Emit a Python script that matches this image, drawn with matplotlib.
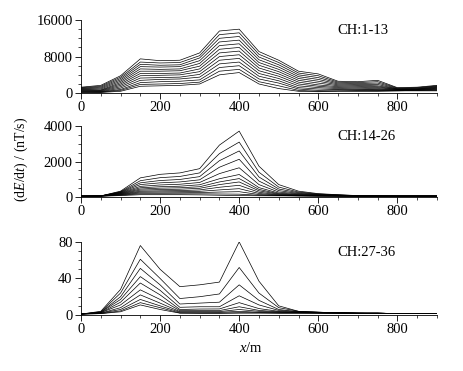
import matplotlib
matplotlib.use("Agg")
import matplotlib.pyplot as plt
from matplotlib.ticker import MultipleLocator

plt.rcParams['font.family'] = ['Liberation Serif', 'DejaVu Serif']
plt.rcParams['mathtext.fontset'] = 'custom'
plt.rcParams['mathtext.rm'] = 'Liberation Serif'
plt.rcParams['mathtext.it'] = 'Liberation Serif:italic'

x = [0, 50, 100, 150, 200, 250, 300, 350, 400, 450, 500, 550, 600, 650, 700, 750, 800, 850, 900]

# CH 1-13
ch_top = [
    [1300, 1700, 3800, 7500, 7100, 7200, 8800, 13600, 14000, 9100, 7200, 4800, 4200, 2600, 2500, 2800, 1200, 1300, 1700],
    [1200, 1500, 3500, 6800, 6600, 6700, 8200, 12800, 13200, 8500, 6700, 4400, 3800, 2400, 2300, 2500, 1100, 1200, 1600],
    [1100, 1300, 3200, 6300, 6100, 6200, 7700, 12000, 12400, 7900, 6200, 4000, 3400, 2200, 2100, 2200, 1000, 1100, 1500],
    [1000, 1100, 2900, 5800, 5700, 5800, 7100, 11200, 11600, 7300, 5700, 3600, 3000, 2000, 1900, 1900, 900, 1000, 1400],
    [900, 900, 2600, 5300, 5200, 5300, 6500, 10400, 10800, 6700, 5200, 3200, 2600, 1800, 1700, 1600, 900, 900, 1300],
    [800, 700, 2300, 4800, 4800, 4900, 5900, 9600, 10000, 6100, 4700, 2800, 2200, 1600, 1500, 1400, 800, 900, 1200],
    [700, 600, 2000, 4300, 4300, 4400, 5300, 8800, 9200, 5500, 4200, 2400, 1800, 1400, 1300, 1200, 800, 800, 1100],
    [600, 500, 1700, 3800, 3900, 4000, 4700, 8000, 8400, 4900, 3700, 2000, 1500, 1200, 1100, 1000, 700, 800, 1000],
    [500, 400, 1400, 3300, 3400, 3500, 4100, 7200, 7600, 4300, 3200, 1600, 1200, 1000, 900, 800, 700, 700, 900],
    [400, 300, 1100, 2800, 3000, 3100, 3500, 6400, 6800, 3700, 2700, 1200, 900, 800, 800, 700, 600, 700, 800],
    [300, 250, 800, 2300, 2500, 2600, 2900, 5600, 6000, 3100, 2200, 900, 600, 700, 600, 600, 600, 600, 700],
    [200, 200, 600, 1900, 2000, 2100, 2400, 4800, 5200, 2500, 1600, 600, 400, 500, 500, 500, 500, 600, 600],
    [150, 150, 400, 1500, 1600, 1700, 2000, 4000, 4500, 2000, 1000, 400, 300, 400, 400, 400, 500, 500, 500],
]

# CH 14-26
ch_mid = [
    [50, 60, 330, 1080, 1280, 1360, 1600, 2930, 3720, 1740, 700, 330, 190, 130, 80, 60, 50, 50, 50],
    [50, 60, 300, 920, 1090, 1160, 1360, 2450, 3100, 1400, 560, 280, 170, 120, 75, 60, 50, 50, 50],
    [50, 60, 280, 800, 930, 990, 1150, 2050, 2600, 1130, 450, 240, 150, 110, 70, 55, 50, 50, 50],
    [50, 60, 260, 700, 800, 850, 970, 1680, 2130, 900, 360, 200, 130, 100, 65, 55, 50, 50, 50],
    [50, 60, 240, 600, 680, 720, 820, 1320, 1650, 700, 280, 170, 120, 90, 60, 50, 50, 50, 50],
    [50, 60, 220, 520, 580, 610, 690, 1030, 1270, 530, 220, 140, 100, 80, 60, 50, 50, 50, 50],
    [50, 60, 200, 450, 500, 520, 580, 850, 1040, 430, 180, 120, 90, 70, 55, 50, 50, 50, 50],
    [50, 55, 180, 390, 420, 440, 490, 700, 850, 350, 150, 100, 80, 65, 55, 50, 50, 50, 50],
    [50, 55, 160, 330, 350, 360, 400, 550, 660, 270, 120, 90, 70, 60, 50, 50, 50, 50, 50],
    [50, 55, 140, 280, 290, 300, 320, 400, 470, 200, 100, 80, 65, 55, 50, 50, 50, 50, 50],
    [45, 50, 120, 230, 230, 240, 250, 280, 300, 140, 90, 70, 60, 55, 50, 50, 50, 50, 50],
    [45, 50, 100, 180, 180, 180, 180, 170, 160, 100, 80, 65, 55, 50, 50, 50, 50, 50, 50],
    [40, 45, 80, 130, 130, 130, 120, 100, 80, 70, 65, 60, 50, 50, 50, 50, 50, 50, 50],
]

# CH 27-36
ch_low = [
    [1, 4, 28, 76, 50, 31, 33, 36, 80, 37, 10, 4, 3, 2.5, 2, 2, 1.5, 1.5, 1.5],
    [1, 3.5, 24, 61, 40, 18, 20, 23, 52, 24, 8, 4, 3, 2.5, 2, 2, 1.5, 1.5, 1.5],
    [1, 3, 20, 51, 33, 12, 13, 14, 33, 16, 6, 3.5, 3, 2.5, 2, 2, 1.5, 1.5, 1.5],
    [1, 3, 17, 42, 27, 8.4, 9, 9, 21, 11, 5, 3.5, 3, 2.5, 2, 2, 1.5, 1.5, 1.5],
    [1, 2.5, 14, 35, 22, 6, 6.5, 6.6, 13.5, 7, 4, 3, 2.5, 2.5, 2, 2, 1.5, 1.5, 1.5],
    [1, 2.5, 11, 27.5, 17, 4.8, 4.8, 4.8, 9, 5, 3.5, 3, 2.5, 2, 2, 2, 1.5, 1.5, 1.5],
    [1, 2, 8, 22, 13, 3.7, 3.7, 3.7, 6, 4, 3, 2.5, 2.5, 2, 2, 1.5, 1.5, 1.5, 1.5],
    [1, 2, 6, 17, 10, 3, 3, 2.9, 4, 3, 2.5, 2.5, 2, 2, 2, 1.5, 1.5, 1.5, 1.5],
    [1, 1.5, 4.5, 13.5, 8, 2.2, 2.2, 2.2, 2.5, 2.5, 2, 2, 2, 2, 1.5, 1.5, 1.5, 1.5, 1.5],
    [1, 1.5, 3.5, 11, 6, 2, 1.8, 1.8, 2, 2, 2, 2, 2, 1.5, 1.5, 1.5, 1.5, 1.5, 1.5],
]

labels = ["CH:1-13", "CH:14-26", "CH:27-36"]
ylims = [16000, 4000, 80]
ymajor = [8000, 2000, 40]
yminor = [2000, 500, 10]

fig = plt.figure(figsize=(4.64, 3.71), dpi=100)
boxes = [
    [0.1746, 0.749, 0.767, 0.197],
    [0.1746, 0.469, 0.767, 0.191],
    [0.1746, 0.151, 0.767, 0.197],
]

for i, data in enumerate([ch_top, ch_mid, ch_low]):
    ax = fig.add_axes(boxes[i])
    for ys in data:
        ax.plot(x, ys, color="black", lw=0.5)
    ax.set_xlim(0, 900)
    ax.set_ylim(0, ylims[i])
    ax.spines["top"].set_visible(False)
    ax.spines["right"].set_visible(False)
    ax.spines["left"].set_linewidth(0.6)
    ax.spines["bottom"].set_linewidth(0.6)
    ax.xaxis.set_major_locator(MultipleLocator(200))
    ax.xaxis.set_minor_locator(MultipleLocator(50))
    ax.yaxis.set_major_locator(MultipleLocator(ymajor[i]))
    ax.yaxis.set_minor_locator(MultipleLocator(yminor[i]))
    ax.tick_params(which="major", direction="out", length=4, width=0.6, labelsize=10.5, pad=2)
    ax.tick_params(which="minor", direction="out", length=2.5, width=0.5)
    ax.text(0.72, 0.85, labels[i], transform=ax.transAxes, fontsize=10.5, va="center", ha="left")

fig.text(0.54, 0.062, "$x$/m", ha="center", va="center", fontsize=10.5)
fig.text(0.045, 0.57, "(d$E$/d$t$) / (nT/s)", rotation=90, ha="center", va="center", fontsize=10)

fig.savefig("out.png", dpi=100)
